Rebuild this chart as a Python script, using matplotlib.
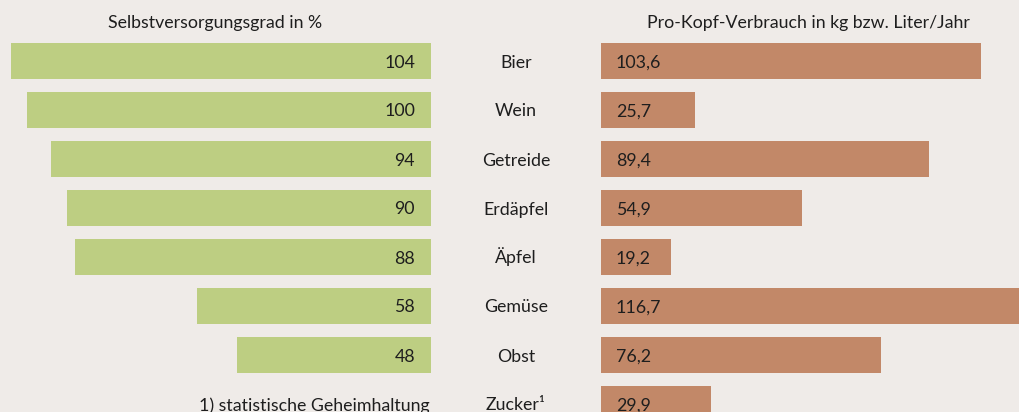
import matplotlib
matplotlib.use("Agg")
import matplotlib.pyplot as plt
import matplotlib.transforms as mtransforms

categories = ["Bier", "Wein", "Getreide", "Erdäpfel", "Äpfel", "Gemüse", "Obst", "Zucker¹"]
selbstversorgung = [104, 100, 94, 90, 88, 58, 48, None]
verbrauch = [103.6, 25.7, 89.4, 54.9, 19.2, 116.7, 76.2, 29.9]
title_left = "Selbstversorgungsgrad in %"
title_right = "Pro-Kopf-Verbrauch in kg bzw. Liter/Jahr"
footnote = "1) statistische Geheimhaltung"

BG = "#EFEBE8"
GREEN = "#BDCE82"
BROWN = "#C28868"
TXT = "#1E1E1E"
FONT = "Lato"
FS = 12.8

W, H = 1019, 412
fig = plt.figure(figsize=(W / 100, H / 100), dpi=100, facecolor=BG)

pitch = 49.0
top_center = 61.0
y_top = -top_center / pitch
y_bot = (H - top_center) / pitch
bar_h = 36 / pitch
BASE_OFF = -6.5  # baseline offset from row centre, in pixels

# left axes: 0..431 px
axL = fig.add_axes([0, 0, 431 / W, 1])
axL.set_facecolor(BG)
axL.set_xlim(431 / 4.04, 0)
axL.set_ylim(y_bot, y_top)
axL.axis("off")

# right axes: 601..1019 px
axR = fig.add_axes([601 / W, 0, (W - 601) / W, 1])
axR.set_facecolor(BG)
axR.set_xlim(0, (W - 601) / 3.67)
axR.set_ylim(y_bot, y_top)
axR.axis("off")

for i, v in enumerate(selbstversorgung):
    if v is None:
        continue
    axL.barh(i, v, height=bar_h, color=GREEN, linewidth=0)
    off = mtransforms.offset_copy(axL.transData, fig=fig, x=-16, y=BASE_OFF, units="dots")
    axL.text(0, i, str(v), transform=off, ha="right", va="baseline",
             fontsize=FS, color=TXT, family=FONT)

for i, v in enumerate(verbrauch):
    axR.barh(i, v, height=bar_h, color=BROWN, linewidth=0)
    off = mtransforms.offset_copy(axR.transData, fig=fig, x=15, y=BASE_OFF, units="dots")
    axR.text(0, i, f"{v:.1f}".replace(".", ","), transform=off, ha="left", va="baseline",
             fontsize=FS, color=TXT, family=FONT)

blend = mtransforms.blended_transform_factory(fig.transFigure, axR.transData)
blend_off = mtransforms.offset_copy(blend, fig=fig, x=0, y=BASE_OFF, units="dots")
for i, c in enumerate(categories):
    fig.text(516 / W, i, c, transform=blend_off, ha="center", va="baseline",
             fontsize=FS, color=TXT, family=FONT)

fig.text(430 / W, len(categories) - 1, footnote, transform=blend_off, ha="right", va="baseline",
         fontsize=FS, color=TXT, family=FONT)

fig.text(215 / W, 1 - 28 / H, title_left, ha="center", va="baseline",
         fontsize=FS, color=TXT, family=FONT)
fig.text(808 / W, 1 - 28 / H, title_right, ha="center", va="baseline",
         fontsize=FS, color=TXT, family=FONT)

fig.savefig("out.png", dpi=100, facecolor=BG)
